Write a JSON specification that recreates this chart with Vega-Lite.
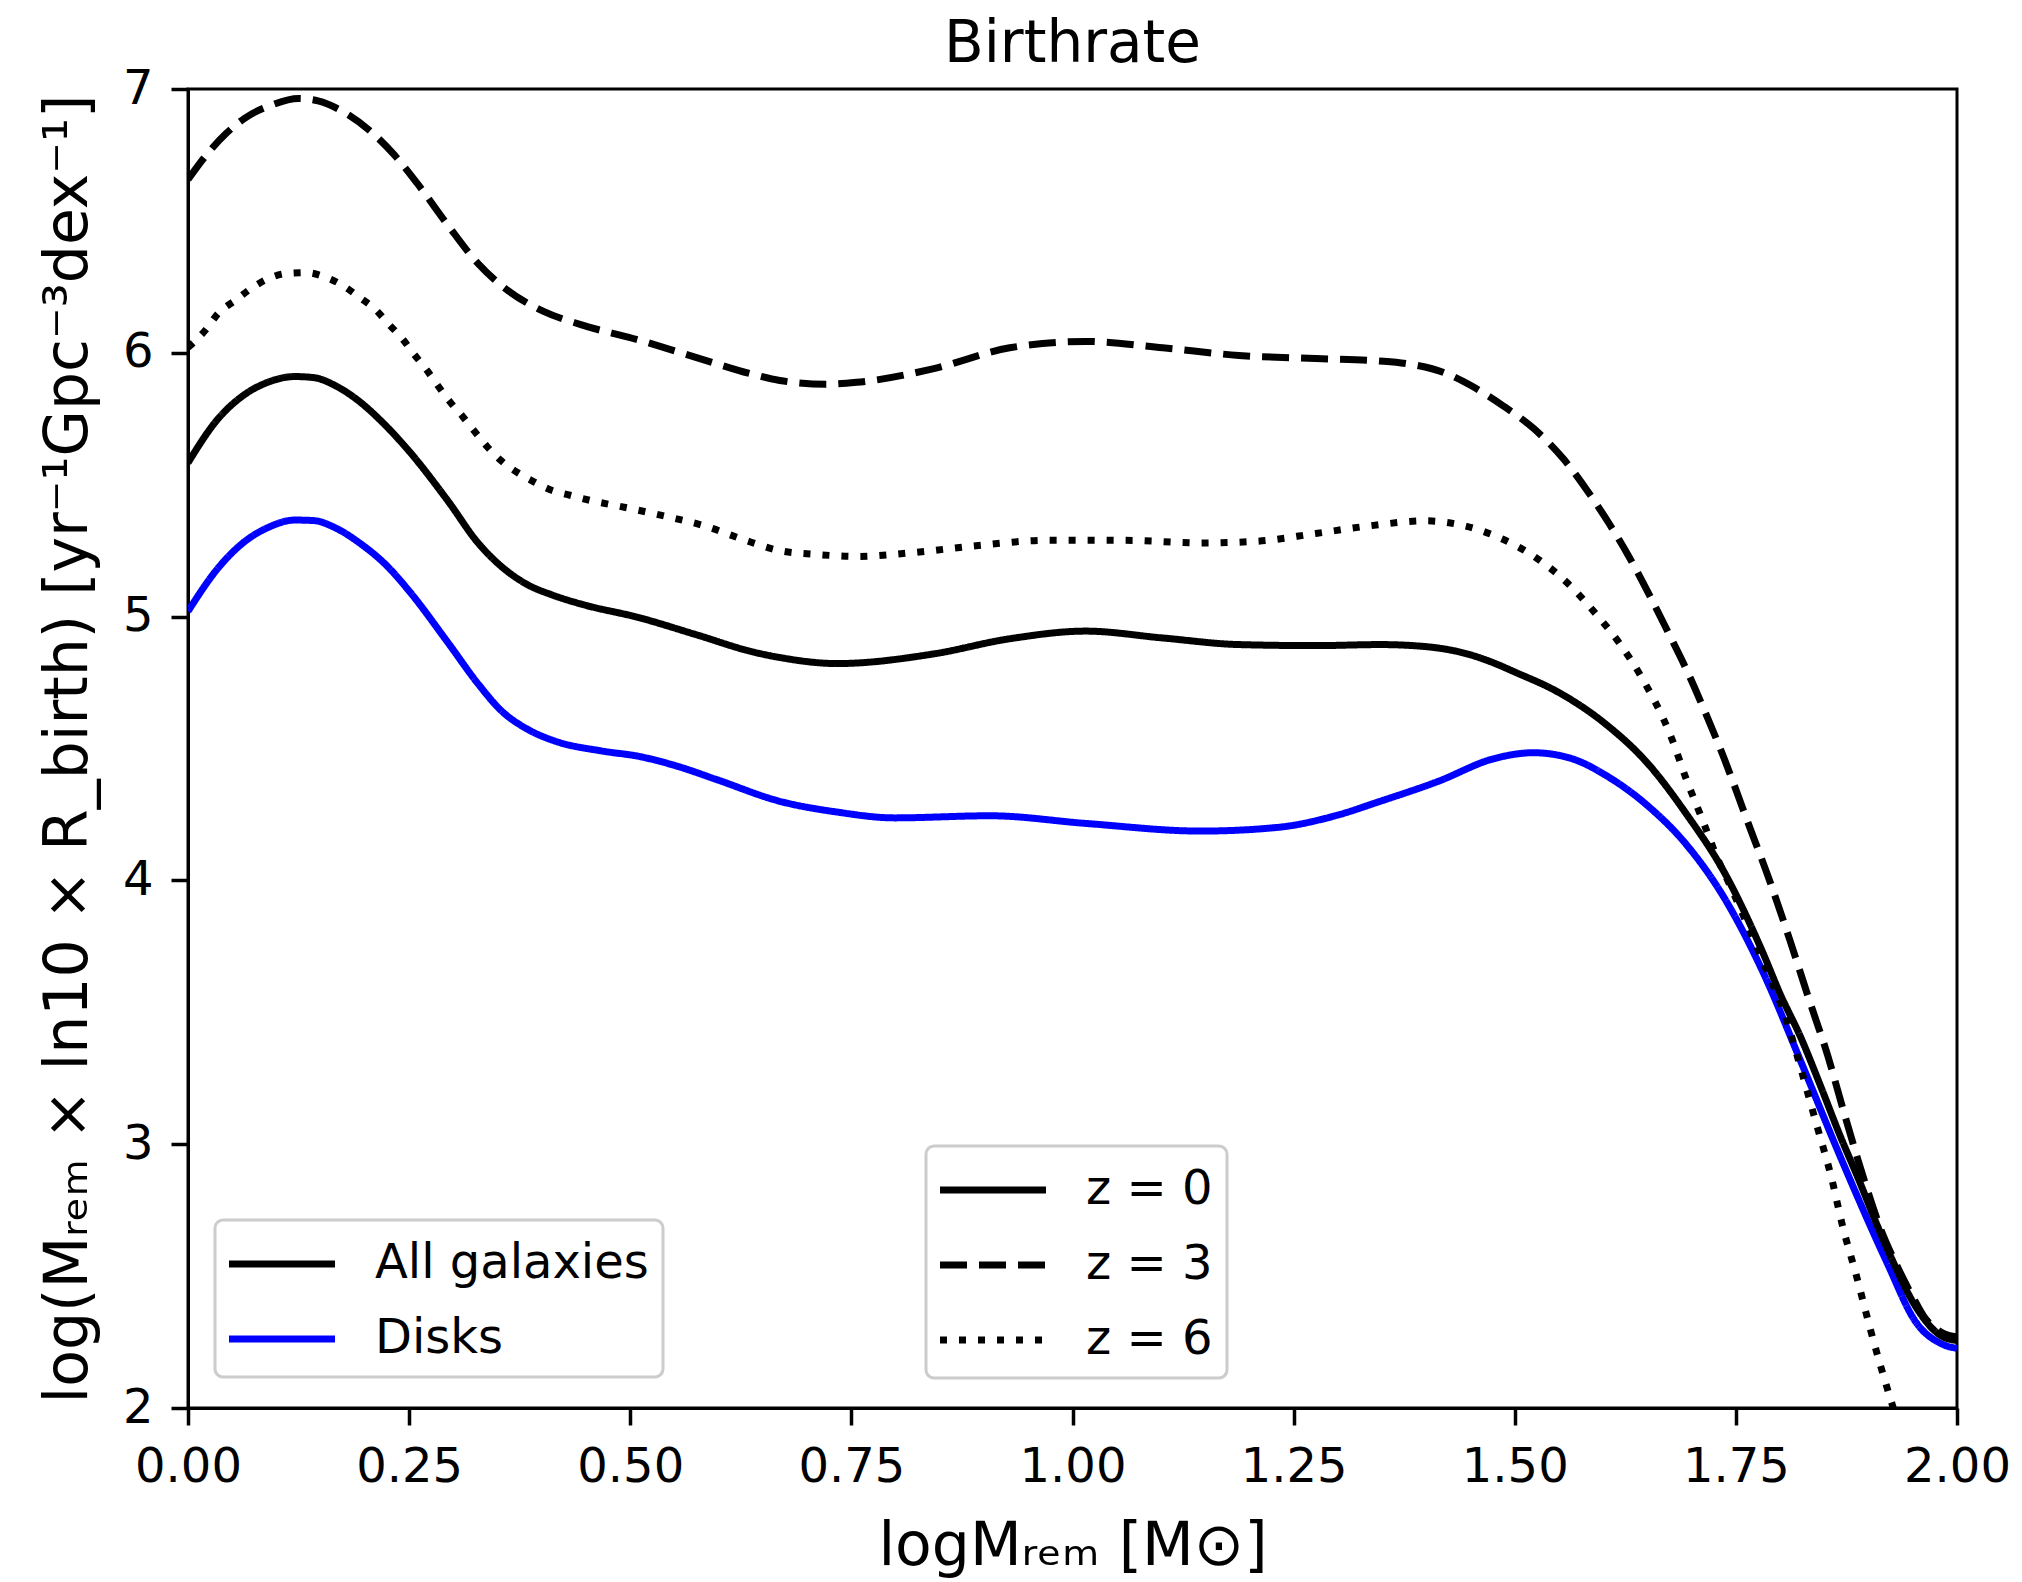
{
  "$schema": "https://vega.github.io/schema/vega-lite/v6.json",
  "width": 1769,
  "height": 1319,
  "autosize": {"type": "none"},
  "padding": {"left": 188, "top": 89, "right": 65, "bottom": 174},
  "background": "white",
  "title": {"text": "Birthrate", "font": "DejaVu Sans", "fontSize": 58, "fontWeight": "normal", "color": "black", "frame": "group", "anchor": "middle", "offset": 16, "dy": 25},
  "config": {
    "view": {"stroke": "black", "strokeWidth": 3},
    "axis": {"domainColor": "black", "domainWidth": 3, "tickColor": "black", "tickWidth": 3.5, "tickSize": 17, "labelFont": "DejaVu Sans", "labelFontSize": 48, "labelColor": "black", "labelPadding": 18, "titleFont": "DejaVu Sans", "titleFontSize": 60, "titleColor": "black", "titleFontWeight": "normal", "grid": false, "labelFlush": false, "labelOverlap": false},
    "legend": {"labelFont": "DejaVu Sans", "labelFontSize": 48, "labelColor": "black", "strokeColor": "#cccccc", "fillColor": "white", "cornerRadius": 8, "symbolType": "M-2,0H2", "symbolSize": 2809, "symbolStrokeWidth": 7, "symbolFillColor": "transparent", "rowPadding": 21, "labelLimit": 0}
  },
  "data": {"values": [
    {"logM": 0.000, "rate": 5.02, "sample": "Disks", "redshift": "z = 0"},
    {"logM": 0.034, "rate": 5.184, "sample": "Disks", "redshift": "z = 0"},
    {"logM": 0.062, "rate": 5.279, "sample": "Disks", "redshift": "z = 0"},
    {"logM": 0.090, "rate": 5.337, "sample": "Disks", "redshift": "z = 0"},
    {"logM": 0.121, "rate": 5.366, "sample": "Disks", "redshift": "z = 0"},
    {"logM": 0.142, "rate": 5.364, "sample": "Disks", "redshift": "z = 0"},
    {"logM": 0.168, "rate": 5.334, "sample": "Disks", "redshift": "z = 0"},
    {"logM": 0.194, "rate": 5.279, "sample": "Disks", "redshift": "z = 0"},
    {"logM": 0.225, "rate": 5.192, "sample": "Disks", "redshift": "z = 0"},
    {"logM": 0.250, "rate": 5.097, "sample": "Disks", "redshift": "z = 0"},
    {"logM": 0.294, "rate": 4.901, "sample": "Disks", "redshift": "z = 0"},
    {"logM": 0.328, "rate": 4.745, "sample": "Disks", "redshift": "z = 0"},
    {"logM": 0.354, "rate": 4.644, "sample": "Disks", "redshift": "z = 0"},
    {"logM": 0.385, "rate": 4.571, "sample": "Disks", "redshift": "z = 0"},
    {"logM": 0.415, "rate": 4.528, "sample": "Disks", "redshift": "z = 0"},
    {"logM": 0.467, "rate": 4.491, "sample": "Disks", "redshift": "z = 0"},
    {"logM": 0.510, "rate": 4.470, "sample": "Disks", "redshift": "z = 0"},
    {"logM": 0.553, "rate": 4.433, "sample": "Disks", "redshift": "z = 0"},
    {"logM": 0.597, "rate": 4.383, "sample": "Disks", "redshift": "z = 0"},
    {"logM": 0.669, "rate": 4.300, "sample": "Disks", "redshift": "z = 0"},
    {"logM": 0.734, "rate": 4.259, "sample": "Disks", "redshift": "z = 0"},
    {"logM": 0.799, "rate": 4.237, "sample": "Disks", "redshift": "z = 0"},
    {"logM": 0.907, "rate": 4.245, "sample": "Disks", "redshift": "z = 0"},
    {"logM": 1.015, "rate": 4.216, "sample": "Disks", "redshift": "z = 0"},
    {"logM": 1.145, "rate": 4.187, "sample": "Disks", "redshift": "z = 0"},
    {"logM": 1.232, "rate": 4.201, "sample": "Disks", "redshift": "z = 0"},
    {"logM": 1.297, "rate": 4.245, "sample": "Disks", "redshift": "z = 0"},
    {"logM": 1.348, "rate": 4.300, "sample": "Disks", "redshift": "z = 0"},
    {"logM": 1.413, "rate": 4.375, "sample": "Disks", "redshift": "z = 0"},
    {"logM": 1.477, "rate": 4.462, "sample": "Disks", "redshift": "z = 0"},
    {"logM": 1.521, "rate": 4.484, "sample": "Disks", "redshift": "z = 0"},
    {"logM": 1.564, "rate": 4.462, "sample": "Disks", "redshift": "z = 0"},
    {"logM": 1.607, "rate": 4.390, "sample": "Disks", "redshift": "z = 0"},
    {"logM": 1.651, "rate": 4.281, "sample": "Disks", "redshift": "z = 0"},
    {"logM": 1.694, "rate": 4.136, "sample": "Disks", "redshift": "z = 0"},
    {"logM": 1.737, "rate": 3.933, "sample": "Disks", "redshift": "z = 0"},
    {"logM": 1.780, "rate": 3.657, "sample": "Disks", "redshift": "z = 0"},
    {"logM": 1.824, "rate": 3.309, "sample": "Disks", "redshift": "z = 0"},
    {"logM": 1.867, "rate": 2.961, "sample": "Disks", "redshift": "z = 0"},
    {"logM": 1.921, "rate": 2.550, "sample": "Disks", "redshift": "z = 0"},
    {"logM": 1.953, "rate": 2.328, "sample": "Disks", "redshift": "z = 0"},
    {"logM": 1.984, "rate": 2.241, "sample": "Disks", "redshift": "z = 0"},
    {"logM": 2.000, "rate": 2.226, "sample": "Disks", "redshift": "z = 0"},

    {"logM": 0.000, "rate": 5.583, "sample": "All galaxies", "redshift": "z = 0"},
    {"logM": 0.034, "rate": 5.750, "sample": "All galaxies", "redshift": "z = 0"},
    {"logM": 0.062, "rate": 5.837, "sample": "All galaxies", "redshift": "z = 0"},
    {"logM": 0.090, "rate": 5.888, "sample": "All galaxies", "redshift": "z = 0"},
    {"logM": 0.121, "rate": 5.910, "sample": "All galaxies", "redshift": "z = 0"},
    {"logM": 0.142, "rate": 5.906, "sample": "All galaxies", "redshift": "z = 0"},
    {"logM": 0.168, "rate": 5.873, "sample": "All galaxies", "redshift": "z = 0"},
    {"logM": 0.194, "rate": 5.815, "sample": "All galaxies", "redshift": "z = 0"},
    {"logM": 0.220, "rate": 5.736, "sample": "All galaxies", "redshift": "z = 0"},
    {"logM": 0.250, "rate": 5.627, "sample": "All galaxies", "redshift": "z = 0"},
    {"logM": 0.294, "rate": 5.438, "sample": "All galaxies", "redshift": "z = 0"},
    {"logM": 0.328, "rate": 5.279, "sample": "All galaxies", "redshift": "z = 0"},
    {"logM": 0.359, "rate": 5.177, "sample": "All galaxies", "redshift": "z = 0"},
    {"logM": 0.385, "rate": 5.119, "sample": "All galaxies", "redshift": "z = 0"},
    {"logM": 0.411, "rate": 5.083, "sample": "All galaxies", "redshift": "z = 0"},
    {"logM": 0.445, "rate": 5.047, "sample": "All galaxies", "redshift": "z = 0"},
    {"logM": 0.510, "rate": 4.996, "sample": "All galaxies", "redshift": "z = 0"},
    {"logM": 0.575, "rate": 4.931, "sample": "All galaxies", "redshift": "z = 0"},
    {"logM": 0.640, "rate": 4.865, "sample": "All galaxies", "redshift": "z = 0"},
    {"logM": 0.669, "rate": 4.845, "sample": "All galaxies", "redshift": "z = 0"},
    {"logM": 0.734, "rate": 4.822, "sample": "All galaxies", "redshift": "z = 0"},
    {"logM": 0.842, "rate": 4.858, "sample": "All galaxies", "redshift": "z = 0"},
    {"logM": 0.929, "rate": 4.916, "sample": "All galaxies", "redshift": "z = 0"},
    {"logM": 1.015, "rate": 4.945, "sample": "All galaxies", "redshift": "z = 0"},
    {"logM": 1.102, "rate": 4.919, "sample": "All galaxies", "redshift": "z = 0"},
    {"logM": 1.188, "rate": 4.894, "sample": "All galaxies", "redshift": "z = 0"},
    {"logM": 1.275, "rate": 4.890, "sample": "All galaxies", "redshift": "z = 0"},
    {"logM": 1.348, "rate": 4.894, "sample": "All galaxies", "redshift": "z = 0"},
    {"logM": 1.400, "rate": 4.886, "sample": "All galaxies", "redshift": "z = 0"},
    {"logM": 1.450, "rate": 4.855, "sample": "All galaxies", "redshift": "z = 0"},
    {"logM": 1.475, "rate": 4.826, "sample": "All galaxies", "redshift": "z = 0"},
    {"logM": 1.500, "rate": 4.790, "sample": "All galaxies", "redshift": "z = 0"},
    {"logM": 1.550, "rate": 4.712, "sample": "All galaxies", "redshift": "z = 0"},
    {"logM": 1.600, "rate": 4.600, "sample": "All galaxies", "redshift": "z = 0"},
    {"logM": 1.651, "rate": 4.441, "sample": "All galaxies", "redshift": "z = 0"},
    {"logM": 1.694, "rate": 4.252, "sample": "All galaxies", "redshift": "z = 0"},
    {"logM": 1.737, "rate": 4.030, "sample": "All galaxies", "redshift": "z = 0"},
    {"logM": 1.780, "rate": 3.730, "sample": "All galaxies", "redshift": "z = 0"},
    {"logM": 1.800, "rate": 3.570, "sample": "All galaxies", "redshift": "z = 0"},
    {"logM": 1.824, "rate": 3.400, "sample": "All galaxies", "redshift": "z = 0"},
    {"logM": 1.845, "rate": 3.227, "sample": "All galaxies", "redshift": "z = 0"},
    {"logM": 1.867, "rate": 3.039, "sample": "All galaxies", "redshift": "z = 0"},
    {"logM": 1.889, "rate": 2.865, "sample": "All galaxies", "redshift": "z = 0"},
    {"logM": 1.910, "rate": 2.691, "sample": "All galaxies", "redshift": "z = 0"},
    {"logM": 1.927, "rate": 2.560, "sample": "All galaxies", "redshift": "z = 0"},
    {"logM": 1.953, "rate": 2.386, "sample": "All galaxies", "redshift": "z = 0"},
    {"logM": 1.984, "rate": 2.270, "sample": "All galaxies", "redshift": "z = 0"},
    {"logM": 2.000, "rate": 2.256, "sample": "All galaxies", "redshift": "z = 0"},

    {"logM": 0.000, "rate": 6.657, "sample": "All galaxies", "redshift": "z = 3"},
    {"logM": 0.021, "rate": 6.751, "sample": "All galaxies", "redshift": "z = 3"},
    {"logM": 0.043, "rate": 6.831, "sample": "All galaxies", "redshift": "z = 3"},
    {"logM": 0.064, "rate": 6.889, "sample": "All galaxies", "redshift": "z = 3"},
    {"logM": 0.095, "rate": 6.940, "sample": "All galaxies", "redshift": "z = 3"},
    {"logM": 0.125, "rate": 6.964, "sample": "All galaxies", "redshift": "z = 3"},
    {"logM": 0.147, "rate": 6.955, "sample": "All galaxies", "redshift": "z = 3"},
    {"logM": 0.177, "rate": 6.911, "sample": "All galaxies", "redshift": "z = 3"},
    {"logM": 0.207, "rate": 6.838, "sample": "All galaxies", "redshift": "z = 3"},
    {"logM": 0.233, "rate": 6.751, "sample": "All galaxies", "redshift": "z = 3"},
    {"logM": 0.259, "rate": 6.643, "sample": "All galaxies", "redshift": "z = 3"},
    {"logM": 0.294, "rate": 6.483, "sample": "All galaxies", "redshift": "z = 3"},
    {"logM": 0.328, "rate": 6.338, "sample": "All galaxies", "redshift": "z = 3"},
    {"logM": 0.359, "rate": 6.243, "sample": "All galaxies", "redshift": "z = 3"},
    {"logM": 0.402, "rate": 6.157, "sample": "All galaxies", "redshift": "z = 3"},
    {"logM": 0.445, "rate": 6.106, "sample": "All galaxies", "redshift": "z = 3"},
    {"logM": 0.510, "rate": 6.048, "sample": "All galaxies", "redshift": "z = 3"},
    {"logM": 0.575, "rate": 5.982, "sample": "All galaxies", "redshift": "z = 3"},
    {"logM": 0.640, "rate": 5.917, "sample": "All galaxies", "redshift": "z = 3"},
    {"logM": 0.669, "rate": 5.895, "sample": "All galaxies", "redshift": "z = 3"},
    {"logM": 0.721, "rate": 5.881, "sample": "All galaxies", "redshift": "z = 3"},
    {"logM": 0.756, "rate": 5.888, "sample": "All galaxies", "redshift": "z = 3"},
    {"logM": 0.842, "rate": 5.939, "sample": "All galaxies", "redshift": "z = 3"},
    {"logM": 0.929, "rate": 6.019, "sample": "All galaxies", "redshift": "z = 3"},
    {"logM": 1.015, "rate": 6.043, "sample": "All galaxies", "redshift": "z = 3"},
    {"logM": 1.102, "rate": 6.019, "sample": "All galaxies", "redshift": "z = 3"},
    {"logM": 1.188, "rate": 5.990, "sample": "All galaxies", "redshift": "z = 3"},
    {"logM": 1.275, "rate": 5.978, "sample": "All galaxies", "redshift": "z = 3"},
    {"logM": 1.352, "rate": 5.968, "sample": "All galaxies", "redshift": "z = 3"},
    {"logM": 1.385, "rate": 5.955, "sample": "All galaxies", "redshift": "z = 3"},
    {"logM": 1.420, "rate": 5.925, "sample": "All galaxies", "redshift": "z = 3"},
    {"logM": 1.452, "rate": 5.873, "sample": "All galaxies", "redshift": "z = 3"},
    {"logM": 1.486, "rate": 5.801, "sample": "All galaxies", "redshift": "z = 3"},
    {"logM": 1.521, "rate": 5.714, "sample": "All galaxies", "redshift": "z = 3"},
    {"logM": 1.555, "rate": 5.598, "sample": "All galaxies", "redshift": "z = 3"},
    {"logM": 1.581, "rate": 5.482, "sample": "All galaxies", "redshift": "z = 3"},
    {"logM": 1.607, "rate": 5.351, "sample": "All galaxies", "redshift": "z = 3"},
    {"logM": 1.629, "rate": 5.228, "sample": "All galaxies", "redshift": "z = 3"},
    {"logM": 1.651, "rate": 5.090, "sample": "All galaxies", "redshift": "z = 3"},
    {"logM": 1.672, "rate": 4.950, "sample": "All galaxies", "redshift": "z = 3"},
    {"logM": 1.694, "rate": 4.800, "sample": "All galaxies", "redshift": "z = 3"},
    {"logM": 1.715, "rate": 4.640, "sample": "All galaxies", "redshift": "z = 3"},
    {"logM": 1.737, "rate": 4.460, "sample": "All galaxies", "redshift": "z = 3"},
    {"logM": 1.763, "rate": 4.225, "sample": "All galaxies", "redshift": "z = 3"},
    {"logM": 1.789, "rate": 3.991, "sample": "All galaxies", "redshift": "z = 3"},
    {"logM": 1.811, "rate": 3.774, "sample": "All galaxies", "redshift": "z = 3"},
    {"logM": 1.832, "rate": 3.556, "sample": "All galaxies", "redshift": "z = 3"},
    {"logM": 1.854, "rate": 3.334, "sample": "All galaxies", "redshift": "z = 3"},
    {"logM": 1.873, "rate": 3.111, "sample": "All galaxies", "redshift": "z = 3"},
    {"logM": 1.895, "rate": 2.865, "sample": "All galaxies", "redshift": "z = 3"},
    {"logM": 1.914, "rate": 2.676, "sample": "All galaxies", "redshift": "z = 3"},
    {"logM": 1.932, "rate": 2.540, "sample": "All galaxies", "redshift": "z = 3"},
    {"logM": 1.951, "rate": 2.415, "sample": "All galaxies", "redshift": "z = 3"},
    {"logM": 1.962, "rate": 2.350, "sample": "All galaxies", "redshift": "z = 3"},
    {"logM": 1.984, "rate": 2.284, "sample": "All galaxies", "redshift": "z = 3"},
    {"logM": 2.000, "rate": 2.270, "sample": "All galaxies", "redshift": "z = 3"},

    {"logM": 0.000, "rate": 6.020, "sample": "All galaxies", "redshift": "z = 6"},
    {"logM": 0.021, "rate": 6.091, "sample": "All galaxies", "redshift": "z = 6"},
    {"logM": 0.034, "rate": 6.149, "sample": "All galaxies", "redshift": "z = 6"},
    {"logM": 0.054, "rate": 6.200, "sample": "All galaxies", "redshift": "z = 6"},
    {"logM": 0.071, "rate": 6.243, "sample": "All galaxies", "redshift": "z = 6"},
    {"logM": 0.090, "rate": 6.280, "sample": "All galaxies", "redshift": "z = 6"},
    {"logM": 0.112, "rate": 6.301, "sample": "All galaxies", "redshift": "z = 6"},
    {"logM": 0.134, "rate": 6.304, "sample": "All galaxies", "redshift": "z = 6"},
    {"logM": 0.155, "rate": 6.287, "sample": "All galaxies", "redshift": "z = 6"},
    {"logM": 0.177, "rate": 6.251, "sample": "All galaxies", "redshift": "z = 6"},
    {"logM": 0.194, "rate": 6.210, "sample": "All galaxies", "redshift": "z = 6"},
    {"logM": 0.212, "rate": 6.164, "sample": "All galaxies", "redshift": "z = 6"},
    {"logM": 0.227, "rate": 6.108, "sample": "All galaxies", "redshift": "z = 6"},
    {"logM": 0.242, "rate": 6.055, "sample": "All galaxies", "redshift": "z = 6"},
    {"logM": 0.255, "rate": 5.997, "sample": "All galaxies", "redshift": "z = 6"},
    {"logM": 0.270, "rate": 5.934, "sample": "All galaxies", "redshift": "z = 6"},
    {"logM": 0.283, "rate": 5.873, "sample": "All galaxies", "redshift": "z = 6"},
    {"logM": 0.296, "rate": 5.815, "sample": "All galaxies", "redshift": "z = 6"},
    {"logM": 0.311, "rate": 5.757, "sample": "All galaxies", "redshift": "z = 6"},
    {"logM": 0.324, "rate": 5.702, "sample": "All galaxies", "redshift": "z = 6"},
    {"logM": 0.339, "rate": 5.641, "sample": "All galaxies", "redshift": "z = 6"},
    {"logM": 0.354, "rate": 5.591, "sample": "All galaxies", "redshift": "z = 6"},
    {"logM": 0.372, "rate": 5.547, "sample": "All galaxies", "redshift": "z = 6"},
    {"logM": 0.391, "rate": 5.511, "sample": "All galaxies", "redshift": "z = 6"},
    {"logM": 0.411, "rate": 5.479, "sample": "All galaxies", "redshift": "z = 6"},
    {"logM": 0.432, "rate": 5.460, "sample": "All galaxies", "redshift": "z = 6"},
    {"logM": 0.454, "rate": 5.441, "sample": "All galaxies", "redshift": "z = 6"},
    {"logM": 0.497, "rate": 5.412, "sample": "All galaxies", "redshift": "z = 6"},
    {"logM": 0.540, "rate": 5.380, "sample": "All galaxies", "redshift": "z = 6"},
    {"logM": 0.584, "rate": 5.344, "sample": "All galaxies", "redshift": "z = 6"},
    {"logM": 0.627, "rate": 5.293, "sample": "All galaxies", "redshift": "z = 6"},
    {"logM": 0.669, "rate": 5.250, "sample": "All galaxies", "redshift": "z = 6"},
    {"logM": 0.713, "rate": 5.235, "sample": "All galaxies", "redshift": "z = 6"},
    {"logM": 0.756, "rate": 5.228, "sample": "All galaxies", "redshift": "z = 6"},
    {"logM": 0.821, "rate": 5.243, "sample": "All galaxies", "redshift": "z = 6"},
    {"logM": 0.886, "rate": 5.267, "sample": "All galaxies", "redshift": "z = 6"},
    {"logM": 0.972, "rate": 5.289, "sample": "All galaxies", "redshift": "z = 6"},
    {"logM": 1.059, "rate": 5.289, "sample": "All galaxies", "redshift": "z = 6"},
    {"logM": 1.145, "rate": 5.279, "sample": "All galaxies", "redshift": "z = 6"},
    {"logM": 1.210, "rate": 5.286, "sample": "All galaxies", "redshift": "z = 6"},
    {"logM": 1.275, "rate": 5.315, "sample": "All galaxies", "redshift": "z = 6"},
    {"logM": 1.336, "rate": 5.344, "sample": "All galaxies", "redshift": "z = 6"},
    {"logM": 1.400, "rate": 5.363, "sample": "All galaxies", "redshift": "z = 6"},
    {"logM": 1.443, "rate": 5.344, "sample": "All galaxies", "redshift": "z = 6"},
    {"logM": 1.486, "rate": 5.294, "sample": "All galaxies", "redshift": "z = 6"},
    {"logM": 1.525, "rate": 5.221, "sample": "All galaxies", "redshift": "z = 6"},
    {"logM": 1.560, "rate": 5.126, "sample": "All galaxies", "redshift": "z = 6"},
    {"logM": 1.590, "rate": 5.017, "sample": "All galaxies", "redshift": "z = 6"},
    {"logM": 1.618, "rate": 4.901, "sample": "All galaxies", "redshift": "z = 6"},
    {"logM": 1.642, "rate": 4.778, "sample": "All galaxies", "redshift": "z = 6"},
    {"logM": 1.677, "rate": 4.542, "sample": "All galaxies", "redshift": "z = 6"},
    {"logM": 1.694, "rate": 4.383, "sample": "All galaxies", "redshift": "z = 6"},
    {"logM": 1.713, "rate": 4.223, "sample": "All galaxies", "redshift": "z = 6"},
    {"logM": 1.728, "rate": 4.093, "sample": "All galaxies", "redshift": "z = 6"},
    {"logM": 1.746, "rate": 3.962, "sample": "All galaxies", "redshift": "z = 6"},
    {"logM": 1.763, "rate": 3.831, "sample": "All galaxies", "redshift": "z = 6"},
    {"logM": 1.785, "rate": 3.657, "sample": "All galaxies", "redshift": "z = 6"},
    {"logM": 1.806, "rate": 3.483, "sample": "All galaxies", "redshift": "z = 6"},
    {"logM": 1.824, "rate": 3.280, "sample": "All galaxies", "redshift": "z = 6"},
    {"logM": 1.841, "rate": 3.077, "sample": "All galaxies", "redshift": "z = 6"},
    {"logM": 1.858, "rate": 2.874, "sample": "All galaxies", "redshift": "z = 6"},
    {"logM": 1.871, "rate": 2.685, "sample": "All galaxies", "redshift": "z = 6"},
    {"logM": 1.886, "rate": 2.505, "sample": "All galaxies", "redshift": "z = 6"},
    {"logM": 1.902, "rate": 2.299, "sample": "All galaxies", "redshift": "z = 6"},
    {"logM": 1.914, "rate": 2.155, "sample": "All galaxies", "redshift": "z = 6"},
    {"logM": 1.928, "rate": 2.000, "sample": "All galaxies", "redshift": "z = 6"}
  ]},
  "mark": {"type": "line", "strokeWidth": 7, "strokeCap": "butt", "strokeJoin": "round", "clip": true, "interpolate": "monotone"},
  "encoding": {
    "x": {"field": "logM", "type": "quantitative", "scale": {"domain": [0, 2], "nice": false, "zero": false},
      "axis": {"values": [0, 0.25, 0.5, 0.75, 1, 1.25, 1.5, 1.75, 2], "format": ".2f", "title": "logMᵣₑₘ [M⊙]", "titlePadding": 26}},
    "y": {"field": "rate", "type": "quantitative", "scale": {"domain": [2, 7], "nice": false, "zero": false},
      "axis": {"values": [2, 3, 4, 5, 6, 7], "format": "d", "title": "log(Mᵣₑₘ × ln10 × R_birth) [yr⁻¹Gpc⁻³dex⁻¹]", "titlePadding": 23}},
    "color": {"field": "sample", "type": "nominal",
      "scale": {"domain": ["All galaxies", "Disks"], "range": ["black", "blue"]},
      "legend": {"title": null, "orient": "none", "legendX": 27, "legendY": 1131, "padding": 14, "symbolOffset": 23, "labelOffset": 63, "encode": {"legend": {"update": {"strokeWidth": {"value": 3}}}}}},
    "strokeDash": {"field": "redshift", "type": "nominal",
      "scale": {"domain": ["z = 0", "z = 3", "z = 6"], "range": [[1, 0], [27, 12], [7, 12]]},
      "legend": {"title": null, "orient": "none", "legendX": 738, "legendY": 1057, "padding": 14, "symbolOffset": 23, "labelOffset": 63, "symbolStrokeColor": "black", "encode": {"legend": {"update": {"strokeWidth": {"value": 3}}}}}}
  }
}
